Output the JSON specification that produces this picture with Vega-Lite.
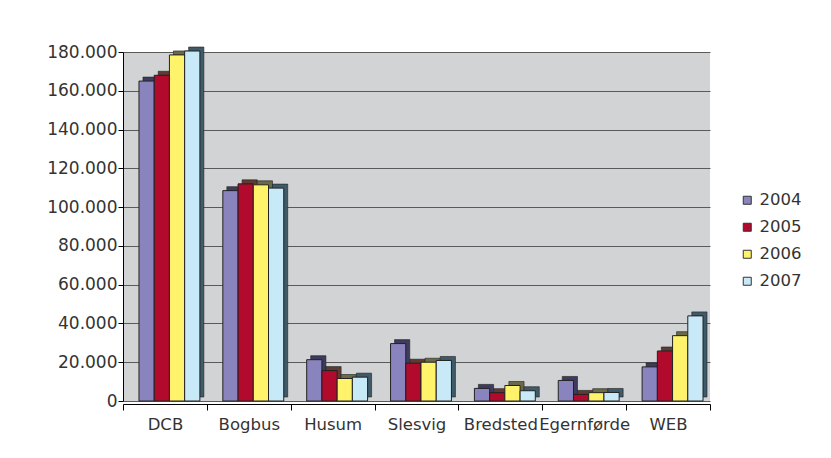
{
  "$schema": "https://vega.github.io/schema/vega-lite/v6.json",
  "width": 587,
  "height": 349,
  "autosize": {"type": "none"},
  "padding": {"left": 123, "top": 52, "right": 121, "bottom": 57},
  "background": "white",
  "config": {
    "view": {"fill": "#D2D3D5", "stroke": null},
    "font": "DejaVu Sans"
  },
  "data": {
    "values": [
      {"site": "DCB", "year": "2004", "value": 165000},
      {"site": "DCB", "year": "2005", "value": 168000},
      {"site": "DCB", "year": "2006", "value": 178500},
      {"site": "DCB", "year": "2007", "value": 180500},
      {"site": "Bogbus", "year": "2004", "value": 108500},
      {"site": "Bogbus", "year": "2005", "value": 112000},
      {"site": "Bogbus", "year": "2006", "value": 111500},
      {"site": "Bogbus", "year": "2007", "value": 109800},
      {"site": "Husum", "year": "2004", "value": 21300},
      {"site": "Husum", "year": "2005", "value": 15700},
      {"site": "Husum", "year": "2006", "value": 11600},
      {"site": "Husum", "year": "2007", "value": 12300},
      {"site": "Slesvig", "year": "2004", "value": 29600},
      {"site": "Slesvig", "year": "2005", "value": 19500},
      {"site": "Slesvig", "year": "2006", "value": 20000},
      {"site": "Slesvig", "year": "2007", "value": 20900},
      {"site": "Bredsted", "year": "2004", "value": 6500},
      {"site": "Bredsted", "year": "2005", "value": 4300},
      {"site": "Bredsted", "year": "2006", "value": 8000},
      {"site": "Bredsted", "year": "2007", "value": 5300},
      {"site": "Egernførde", "year": "2004", "value": 10600},
      {"site": "Egernførde", "year": "2005", "value": 3400},
      {"site": "Egernførde", "year": "2006", "value": 4300},
      {"site": "Egernførde", "year": "2007", "value": 4400},
      {"site": "WEB", "year": "2004", "value": 17600},
      {"site": "WEB", "year": "2005", "value": 25800},
      {"site": "WEB", "year": "2006", "value": 33700},
      {"site": "WEB", "year": "2007", "value": 43900}
    ]
  },
  "encoding": {
    "x": {
      "field": "site",
      "type": "nominal",
      "sort": ["DCB", "Bogbus", "Husum", "Slesvig", "Bredsted", "Egernførde", "WEB"],
      "scale": {"paddingInner": 0, "paddingOuter": 0},
      "axis": {
        "title": null,
        "labelAngle": 0,
        "labelFontSize": 16.5,
        "labelColor": "#333333",
        "domainColor": "#000000",
        "tickColor": "#000000",
        "tickSize": 6,
        "tickBand": "extent",
        "labelPadding": 6,
        "offset": 3,
        "grid": false
      }
    },
    "y": {
      "field": "value",
      "type": "quantitative",
      "scale": {"domain": [0, 180000], "nice": false},
      "axis": {
        "title": null,
        "values": [0, 20000, 40000, 60000, 80000, 100000, 120000, 140000, 160000, 180000],
        "labelExpr": "replace(format(datum.value, ','), ',', '.')",
        "labelFontSize": 17,
        "labelColor": "#333333",
        "labelPadding": 1,
        "tickSize": 5,
        "domainColor": "#000000",
        "tickColor": "#000000",
        "grid": true,
        "gridColor": "#5A5A5A",
        "gridWidth": 1.2
      }
    }
  },
  "layer": [
    {
      "mark": {"type": "bar", "yOffset": -4, "stroke": "#222222", "strokeWidth": 0.6, "clip": false},
      "encoding": {
        "xOffset": {"field": "year", "type": "nominal", "scale": {"paddingInner": 0, "paddingOuter": 0.754, "align": 0.87}},
        "color": {
          "field": "year",
          "type": "nominal",
          "scale": {"domain": ["2004", "2005", "2006", "2007"], "range": ["#3D3B5E", "#5E3B33", "#6A6948", "#3F5A68"]},
          "legend": null
        }
      }
    },
    {
      "mark": {"type": "bar", "stroke": "#222222", "strokeWidth": 1, "clip": false},
      "encoding": {
        "xOffset": {"field": "year", "type": "nominal", "scale": {"paddingInner": 0, "paddingOuter": 0.754, "align": 0.696}},
        "color": {
          "field": "year",
          "type": "nominal",
          "scale": {"domain": ["2004", "2005", "2006", "2007"], "range": ["#8A84BE", "#B10A2C", "#FFF36C", "#C8E9F8"]},
          "legend": {
            "title": null,
            "orient": "none",
            "legendX": 616,
            "legendY": 140,
            "symbolType": "square",
            "symbolSize": 64,
            "symbolStrokeColor": "#333333",
            "symbolStrokeWidth": 1,
            "labelFontSize": 16.5,
            "labelColor": "#333333",
            "labelOffset": 4,
            "rowPadding": 10
          }
        }
      }
    }
  ],
  "resolve": {"scale": {"color": "independent", "xOffset": "independent"}}
}
